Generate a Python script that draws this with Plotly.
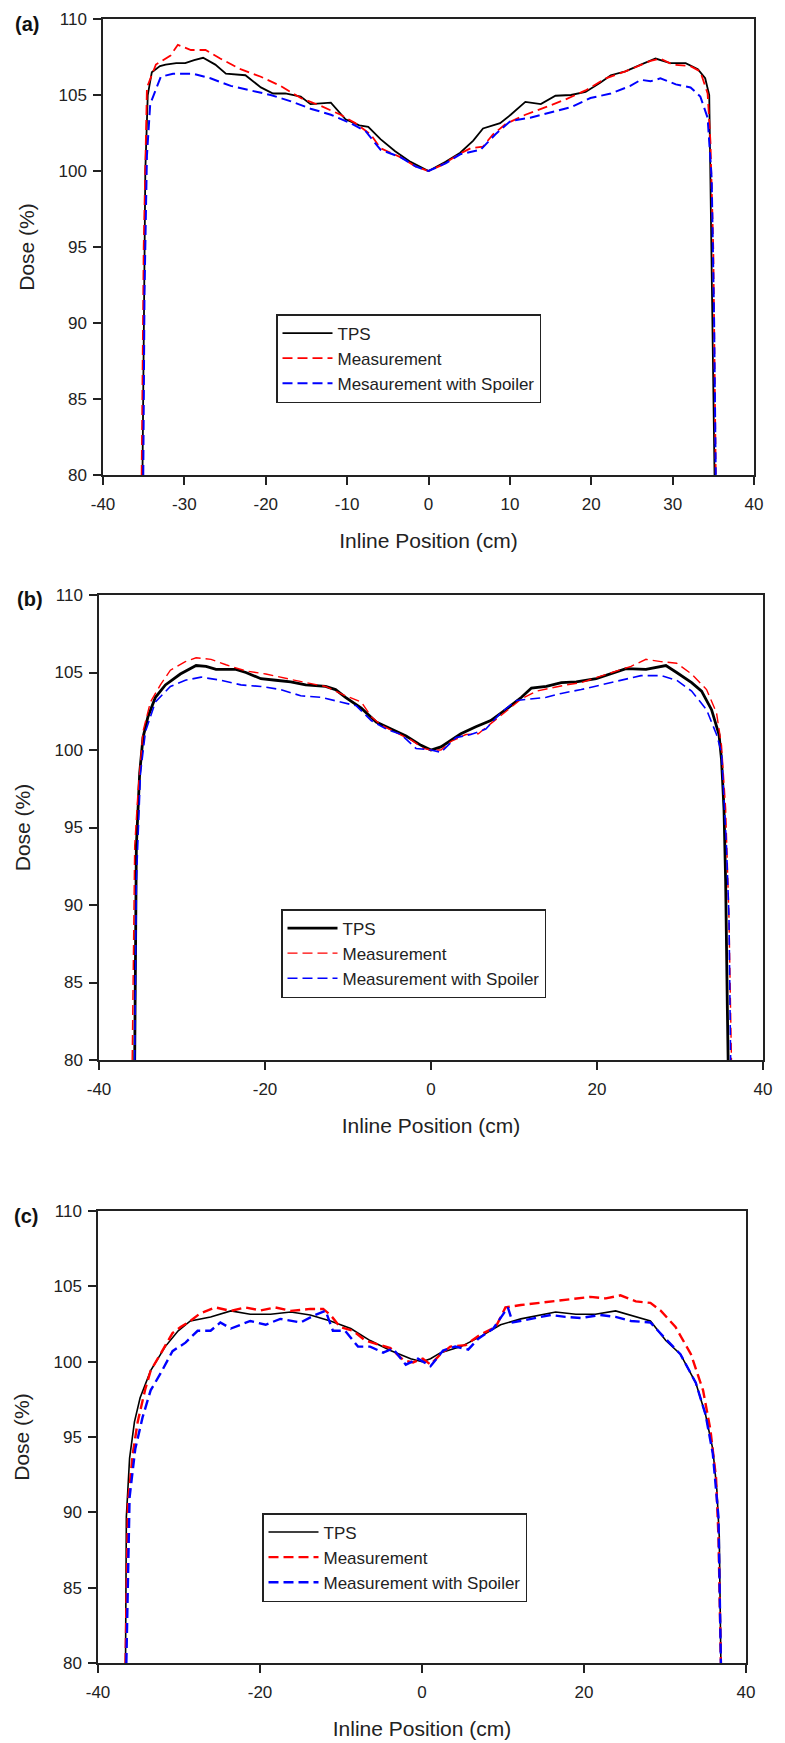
import plotly.graph_objects as go

# ---------------- data ----------------
# Panel (a)
a_tps_x = [-35.15, -35.0, -34.8, -34.5, -34.0, -33.0, -32.3, -31.0, -29.9, -28.8, -27.7, -26.2, -24.9, -22.5, -20.6, -19.1, -17.6, -15.7, -14.5, -12.0, -10.2, -8.5, -7.4, -5.9, -4.1, -2.2, 0.0, 2.1, 3.9, 5.5, 6.7, 8.8, 10.1, 11.9, 13.8, 15.6, 17.5, 19.3, 21.1, 22.4, 24.2, 26.1, 27.9, 29.7, 31.6, 33.1, 34.0, 34.5, 34.65, 35.0, 35.15]
a_tps_y = [80, 88, 100, 105.0, 106.5, 106.9, 107.0, 107.1, 107.1, 107.3, 107.45, 107.0, 106.4, 106.3, 105.5, 105.1, 105.1, 104.9, 104.4, 104.5, 103.4, 103.0, 102.9, 102.1, 101.3, 100.6, 100.0, 100.6, 101.2, 102.0, 102.8, 103.15, 103.7, 104.55, 104.4, 104.95, 105.0, 105.2, 105.8, 106.3, 106.55, 107.0, 107.4, 107.1, 107.1, 106.7, 106.1, 105.0, 99.5, 87.8, 80]
a_meas_x = [-35.25, -35.0, -34.6, -33.5, -31.7, -30.8, -29.2, -27.4, -25.6, -23.1, -20.6, -18.2, -15.7, -13.3, -10.8, -9.0, -7.1, -5.9, -3.4, -1.6, 0.0, 1.5, 3.9, 5.2, 6.7, 7.9, 9.5, 11.9, 14.4, 16.8, 19.3, 21.8, 24.2, 25.7, 27.3, 28.5, 30.0, 32.2, 33.4, 34.3, 34.65, 35.0, 35.3]
a_meas_y = [80, 95, 105.5, 107.0, 107.6, 108.3, 107.96, 107.96, 107.4, 106.7, 106.2, 105.6, 104.8, 104.3, 103.7, 103.15, 102.4, 101.5, 100.9, 100.3, 100.0, 100.35, 101.15, 101.5, 101.6, 102.4, 103.1, 103.7, 104.2, 104.7, 105.3, 106.1, 106.55, 106.9, 107.25, 107.4, 107.0, 106.9, 106.55, 105.1, 101.9, 94.8, 80]
a_spoil_x = [-35.05, -34.9, -34.6, -34.2, -32.9, -31.4, -28.9, -26.8, -24.3, -21.9, -19.4, -17.0, -14.5, -12.0, -9.6, -7.7, -5.9, -3.4, -1.6, 0.0, 2.1, 3.9, 6.4, 8.2, 10.1, 12.5, 15.0, 17.5, 19.9, 22.4, 24.8, 26.1, 27.3, 28.5, 30.4, 32.2, 33.4, 34.3, 34.8, 35.1, 35.3]
a_spoil_y = [80, 92, 101, 104.4, 106.2, 106.4, 106.4, 106.1, 105.6, 105.3, 105.0, 104.6, 104.1, 103.7, 103.15, 102.6, 101.4, 100.9, 100.3, 100.0, 100.5, 101.1, 101.4, 102.4, 103.3, 103.5, 103.85, 104.2, 104.8, 105.1, 105.6, 106.0, 105.9, 106.1, 105.7, 105.5, 104.9, 103.5, 99.5, 90.1, 80]

# Panel (b)
b_tps_x = [-35.7, -35.5, -35.1, -34.7, -34.1, -33.2, -32.0, -30.2, -28.3, -27.1, -25.9, -23.5, -22.3, -20.5, -18.7, -16.9, -15.1, -12.7, -11.5, -10.3, -8.4, -6.6, -4.8, -3.0, -1.2, 0.0, 1.2, 2.4, 3.6, 5.4, 7.2, 9.0, 10.9, 12.1, 13.9, 15.7, 17.5, 19.9, 21.7, 23.5, 25.9, 28.3, 29.6, 31.4, 32.6, 33.8, 34.7, 35.0, 35.3, 35.5, 35.7, 35.8]
b_tps_y = [80, 93.8, 98.5, 100.8, 102.15, 103.4, 104.2, 104.9, 105.45, 105.4, 105.2, 105.2, 105.0, 104.6, 104.5, 104.4, 104.2, 104.1, 103.9, 103.4, 102.7, 101.8, 101.35, 100.9, 100.3, 100.0, 100.2, 100.65, 101.05, 101.5, 101.9, 102.6, 103.4, 104.0, 104.1, 104.35, 104.4, 104.6, 104.9, 105.25, 105.2, 105.45, 105.0, 104.35, 103.8, 102.6, 101.0, 99.4, 96.2, 91.5, 83.5, 80]
b_meas_x = [-36.0, -35.7, -35.3, -34.7, -33.8, -32.6, -31.4, -29.6, -28.3, -26.5, -24.7, -22.3, -19.9, -17.5, -15.1, -12.7, -10.3, -8.4, -7.2, -6.0, -4.2, -2.4, -0.9, 0.0, 1.2, 2.4, 4.2, 5.7, 7.2, 9.0, 10.9, 12.7, 14.5, 16.3, 18.1, 19.9, 22.3, 24.1, 25.9, 27.7, 29.6, 31.4, 33.2, 34.4, 35.0, 35.5, 35.9, 36.2]
b_meas_y = [80, 93.8, 97.3, 101.2, 103.1, 104.2, 105.15, 105.7, 105.95, 105.85, 105.5, 105.1, 104.9, 104.6, 104.35, 104.1, 103.5, 103.1, 102.15, 101.6, 101.1, 100.65, 100.1, 100.0, 100.0, 100.55, 101.0, 101.05, 101.7, 102.5, 103.3, 103.8, 104.0, 104.2, 104.35, 104.65, 105.05, 105.4, 105.85, 105.7, 105.6, 104.9, 103.9, 102.4, 100.3, 96.2, 89.2, 80]
b_spoil_x = [-35.7, -35.5, -35.0, -34.4, -33.2, -31.4, -29.6, -27.7, -25.3, -22.9, -20.5, -18.1, -15.7, -13.3, -10.9, -9.0, -7.2, -5.4, -3.6, -1.8, 0.0, 1.2, 3.0, 4.8, 6.6, 8.4, 10.3, 12.1, 13.9, 15.7, 18.1, 20.5, 22.9, 25.3, 27.7, 29.6, 31.4, 33.2, 34.4, 35.0, 35.6, 35.9, 36.1]
b_spoil_y = [80, 91.5, 98.5, 101.2, 103.1, 104.1, 104.5, 104.7, 104.5, 104.2, 104.1, 103.9, 103.5, 103.4, 103.1, 102.85, 101.9, 101.35, 101.0, 100.1, 100.0, 99.85, 100.8, 101.0, 101.35, 102.4, 103.2, 103.3, 103.4, 103.65, 103.9, 104.2, 104.5, 104.8, 104.8, 104.5, 103.8, 102.6, 101.0, 99.85, 93.8, 89.2, 80]

# Panel (c)
c_tps_x = [-36.6, -36.5, -36.1, -35.5, -34.8, -33.5, -31.7, -30.1, -28.6, -26.1, -23.6, -21.2, -18.7, -16.2, -13.8, -11.3, -8.8, -6.4, -3.9, -1.4, 0.0, 1.05, 2.3, 4.8, 7.2, 9.7, 12.2, 14.6, 16.5, 19.0, 21.4, 23.9, 26.4, 28.2, 30.1, 31.9, 33.8, 35.0, 35.9, 36.4, 36.7, 36.9]
c_tps_y = [80, 89.7, 93.6, 96.0, 97.6, 99.4, 101.0, 102.05, 102.7, 102.97, 103.37, 103.15, 103.15, 103.3, 103.1, 102.7, 102.2, 101.4, 100.74, 100.2, 100.0, 100.2, 100.6, 101.0, 101.66, 102.45, 102.84, 103.1, 103.3, 103.15, 103.15, 103.37, 102.97, 102.7, 101.4, 100.5, 98.6, 96.5, 94.2, 91.5, 88.4, 80]
c_meas_x = [-36.6, -36.3, -35.7, -35.1, -34.2, -33.5, -32.3, -30.8, -29.8, -28.6, -27.4, -25.5, -23.6, -21.8, -19.9, -18.1, -16.2, -13.8, -12.2, -11.3, -10.1, -8.5, -7.0, -5.1, -3.9, -2.3, -1.1, 0.1, 1.05, 2.3, 3.5, 5.4, 7.2, 9.1, 10.3, 12.2, 14.6, 16.5, 19.0, 20.8, 22.7, 24.5, 26.4, 28.2, 29.5, 31.3, 33.2, 34.7, 35.6, 36.3, 36.6, 36.9]
c_meas_y = [80, 90.7, 93.9, 96.0, 98.1, 99.4, 100.5, 101.9, 102.3, 102.7, 103.2, 103.6, 103.37, 103.6, 103.4, 103.6, 103.37, 103.5, 103.5, 103.1, 102.3, 102.05, 101.4, 101.1, 100.9, 100.1, 99.95, 100.2, 99.8, 100.5, 101.0, 101.1, 101.8, 102.3, 103.6, 103.76, 103.9, 104.0, 104.16, 104.3, 104.2, 104.4, 104.0, 103.9, 103.37, 102.3, 100.5, 98.1, 95.5, 92.3, 88.4, 80]
c_spoil_x = [-36.5, -36.1, -35.4, -34.5, -33.5, -32.3, -30.8, -29.2, -27.7, -26.1, -24.9, -23.6, -21.2, -19.3, -17.5, -15.0, -13.2, -11.9, -11.0, -9.5, -7.9, -6.4, -4.8, -3.6, -2.0, -0.5, 1.05, 2.6, 4.1, 5.7, 6.9, 8.8, 10.3, 10.6, 11.2, 13.4, 15.9, 17.7, 19.6, 22.0, 23.9, 25.8, 28.2, 30.1, 31.9, 33.8, 35.0, 35.9, 36.6, 36.9]
c_spoil_y = [80, 91.0, 94.2, 96.3, 98.1, 99.2, 100.7, 101.26, 102.05, 102.05, 102.6, 102.2, 102.7, 102.45, 102.84, 102.6, 103.1, 103.37, 102.05, 102.05, 101.0, 101.0, 100.6, 100.87, 99.8, 100.2, 99.7, 100.74, 101.0, 100.8, 101.5, 102.2, 103.37, 103.6, 102.6, 102.84, 103.1, 102.97, 102.9, 103.1, 102.97, 102.7, 102.6, 101.5, 100.5, 98.6, 96.5, 93.9, 89.7, 80]

panel_labels = ["(a)", "(b)", "(c)"]
names_a = ["TPS", "Measurement", "Mesaurement with Spoiler"]
names_bc = ["TPS", "Measurement", "Measurement with Spoiler"]
x_title = "Inline Position (cm)"
y_title = "Dose (%)"
x_ticks_a = [-40, -30, -20, -10, 0, 10, 20, 30, 40]
x_ticks_bc = [-40, -20, 0, 20, 40]
y_ticks = [80, 85, 90, 95, 100, 105, 110]
x_range = [-40, 40]
y_range = [80, 110]

# ---------------- figure ----------------
W, H = 785, 1743
FONT = "Liberation Sans, Arial, sans-serif"
INK = "#222222"

fig = go.Figure()

panels = [
    ([a_tps_x, a_meas_x, a_spoil_x], [a_tps_y, a_meas_y, a_spoil_y], names_a, "", "legend", [1.8, 1.8, 2.0]),
    ([b_tps_x, b_meas_x, b_spoil_x], [b_tps_y, b_meas_y, b_spoil_y], names_bc, "2", "legend2", [2.8, 1.4, 1.6]),
    ([c_tps_x, c_meas_x, c_spoil_x], [c_tps_y, c_meas_y, c_spoil_y], names_bc, "3", "legend3", [1.6, 2.4, 2.4]),
]
colors = ["#000000", "#ff0000", "#0000ff"]
dashes = ["solid", "10px,5px", "10px,5px"]

for xs, ys, names, sfx, leg, widths in panels:
    for i in range(3):
        fig.add_trace(go.Scatter(
            x=xs[i], y=ys[i], mode="lines", name=names[i],
            line=dict(color=colors[i], width=widths[i], dash=dashes[i]),
            xaxis="x" + sfx, yaxis="y" + sfx, legend=leg,
        ))

def px_dom_x(l, r):
    return [l / W, r / W]

def px_dom_y(t, b):
    return [1 - b / H, 1 - t / H]

boxes = [
    (103, 754, 19, 475, x_ticks_a),
    (99, 763, 595, 1060, x_ticks_bc),
    (98, 746, 1211, 1663, x_ticks_bc),
]

def lab(v):
    return str(v)  # plain hyphen-minus, as in the reference

axis_common = dict(
    showline=True, linecolor=INK, linewidth=1.5, mirror=True,
    ticks="outside", ticklen=8, tickwidth=1.5, tickcolor=INK,
    showgrid=False, zeroline=False, automargin=False,
    tickfont=dict(family=FONT, size=17, color=INK),
)

layout = dict(
    width=W, height=H, margin=dict(l=0, r=0, t=0, b=0, autoexpand=False),
    paper_bgcolor="white", plot_bgcolor="white",
    font=dict(family=FONT, color=INK),
)

annotations = []
for k, (l, r, t, b, xt) in enumerate(boxes):
    sfx = "" if k == 0 else str(k + 1)
    layout["xaxis" + sfx] = dict(
        axis_common, domain=px_dom_x(l, r), range=x_range,
        tickmode="array", tickvals=xt, ticktext=[lab(v) for v in xt],
        anchor="y" + sfx, ticklabelstandoff=5,
        title=dict(text=x_title, font=dict(family=FONT, size=21, color=INK), standoff=20),
    )
    layout["yaxis" + sfx] = dict(
        axis_common, domain=px_dom_y(t, b), range=y_range,
        tickmode="array", tickvals=y_ticks, ticktext=[lab(v) for v in y_ticks],
        anchor="x" + sfx, ticklabelstandoff=3,
        title=dict(text=y_title, font=dict(family=FONT, size=21, color=INK), standoff=18),
    )

label_pos = [(27, 24), (30, 599), (26, 1216)]
for labtxt, (cx, cy) in zip(panel_labels, label_pos):
    annotations.append(dict(
        text="<b>%s</b>" % labtxt, x=cx / W, y=1 - cy / H, xref="paper", yref="paper",
        xanchor="center", yanchor="middle", showarrow=False,
        font=dict(family=FONT, size=20, color="#111111"),
    ))
layout["annotations"] = annotations

legend_common = dict(
    xanchor="left", yanchor="top", bgcolor="white",
    bordercolor=INK, borderwidth=1.5,
    font=dict(family=FONT, size=17, color=INK),
    itemwidth=50, traceorder="normal", entrywidth=262,
)
layout["legend"] = dict(legend_common, x=276 / W, y=1 - 314 / H)
layout["legend2"] = dict(legend_common, x=281 / W, y=1 - 909 / H)
layout["legend3"] = dict(legend_common, x=262 / W, y=1 - 1513 / H)
layout["showlegend"] = True

fig.update_layout(**layout)
fig.write_html(
    "out.html",
    config={"displayModeBar": False},
    post_script="document.body.style.margin='0';document.body.style.overflow='hidden';",
)
